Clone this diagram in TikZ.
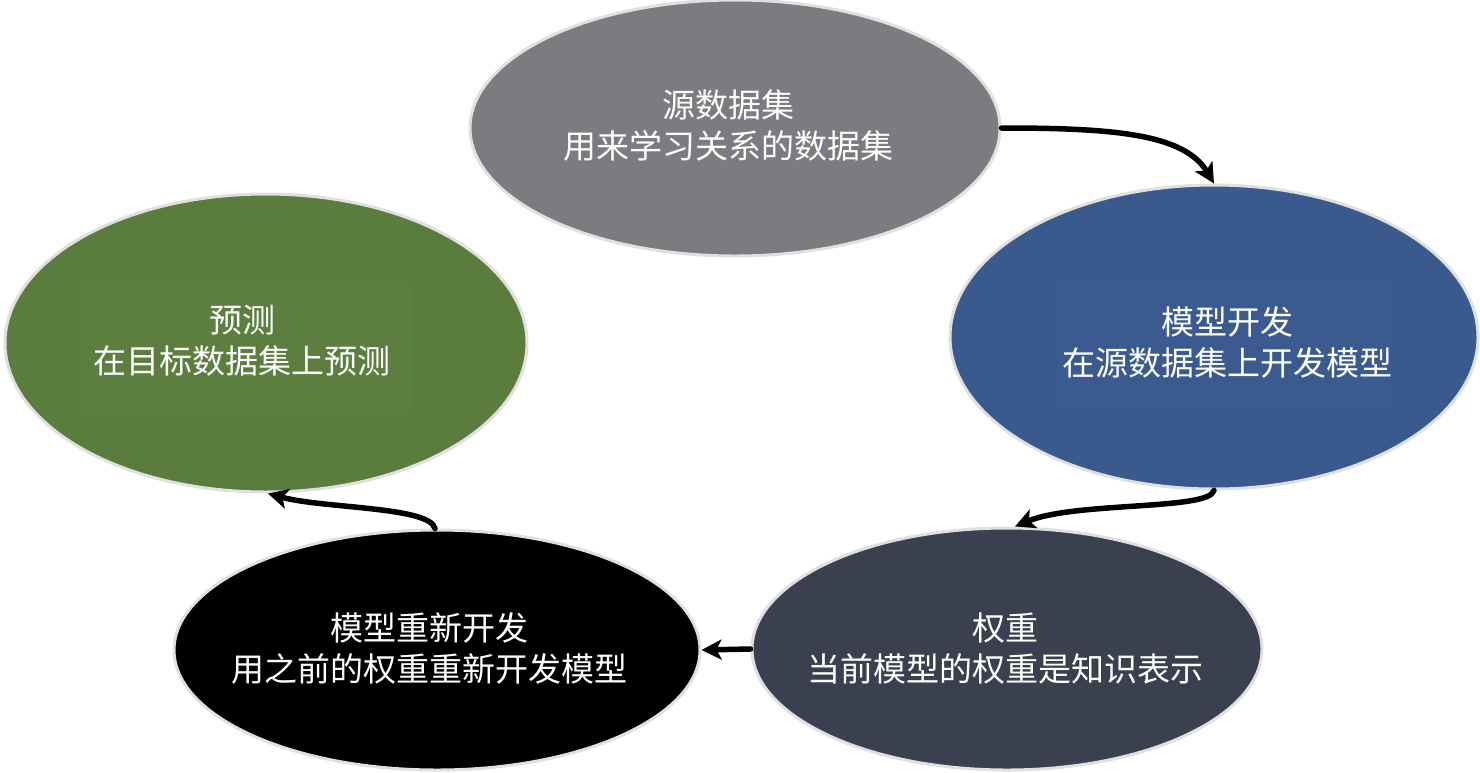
\documentclass[tikz,border=0pt]{standalone}
\usepackage{fontspec}
\setmainfont{Noto Sans CJK SC}
\usetikzlibrary{shapes.geometric,arrows.meta}
\definecolor{srcgray}{HTML}{7B7C80}
\definecolor{devblue}{HTML}{3A5A8E}
\definecolor{devblueinner}{HTML}{3B5B90}
\definecolor{wslate}{HTML}{3B4050}
\definecolor{predgreen}{HTML}{5A7D3E}
\definecolor{predgreeninner}{HTML}{5C7F40}
\begin{document}
\begin{tikzpicture}[x=1pt, y=-1pt, line join=round, line cap=round,
	>={Stealth[length=20pt, width=20pt, inset=5pt]},
	stage/.style={ellipse, draw=black!12, line width=3pt, inner sep=0pt},
	txt/.style={white, align=center, font=\fontsize{33}{41}\selectfont},
	flow/.style={->, line width=5.5pt}]
	\useasboundingbox (0,0) rectangle (1480,772);
	% the five stages
	\node[stage, fill=srcgray, minimum width=530, minimum height=256] (source) at (735,128) {};
	\node[stage, fill=devblue, minimum width=528, minimum height=304] (develop) at (1214,337) {};
	\node[stage, fill=wslate, minimum width=510, minimum height=242] (weights) at (1007,649) {};
	\node[stage, fill=black, minimum width=526, minimum height=240] (redevelop) at (437,650) {};
	\node[stage, fill=predgreen, minimum width=522, minimum height=298] (predict) at (266,343) {};
	\fill[devblueinner] (1058,280) rectangle (1395,410);
	\fill[predgreeninner] (78,283) rectangle (413,412);
	% texts
	\node[txt] (source-txt) at ([shift={(-7,-3)}]source.center) {源数据集\\用来学习关系的数据集};
	\node[txt] (develop-txt) at ([shift={(13,5)}]develop.center) {模型开发\\在源数据集上开发模型};
	\node[txt] (weights-txt) at ([shift={(-2,0)}]weights.center) {权重\\当前模型的权重是知识表示};
	\node[txt] (redevelop-txt) at ([shift={(-8,-2)}]redevelop.center) {模型重新开发\\用之前的权重重新开发模型};
	\node[txt] (predict-txt) at ([shift={(-24,-2)}]predict.center) {预测\\在目标数据集上预测};
	% arrows
	\draw[flow] (source.east) .. controls +(110,0) and +(-30,-50) .. (develop.north);
	\draw[flow] (develop.south) .. controls +(-5,20) and +(60,-25) .. ([xshift=8]weights.north);
	\draw[flow] (weights.west) -- (redevelop.east);
	\draw[flow] ([xshift=-2]redevelop.north) .. controls +(-5,-22) and +(55,15) .. ([xshift=2]predict.south);
\end{tikzpicture}
\end{document}
